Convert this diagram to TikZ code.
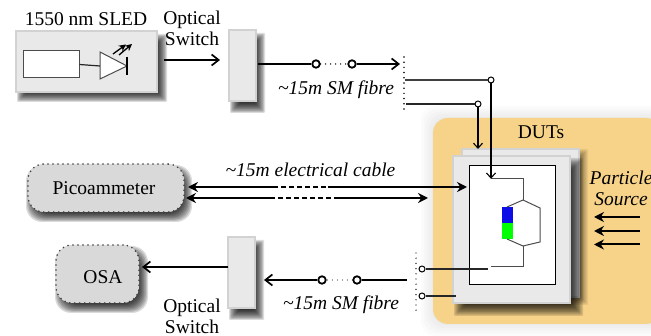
\documentclass[tikz,border=0pt]{standalone}
\usepackage{fontspec}
\setmainfont{Liberation Serif}
\usetikzlibrary{arrows.meta,calc}
\definecolor{cardfill}{HTML}{E9E9E9}
\definecolor{cardedge}{HTML}{D2D2D2}
\definecolor{orangebg}{HTML}{F6D389}
\definecolor{instfill}{HTML}{D9D9D9}
\newcommand{\softdrop}[7]{% x1 y1 x2 y2 blur radius opacity
  \foreach \ii in {0,...,9}{
    \pgfmathsetmacro{\dd}{#5*(1-\ii/4.5)}
    \fill[black,fill opacity=#7,rounded corners=#6pt]
      ({#1-\dd},{#2-\dd}) rectangle ({#3+\dd},{#4+\dd});
  }}
\tikzset{
  lbl/.style={font=\fontsize{19.5}{21}\selectfont,inner sep=0pt,align=center},
  ilbl/.style={font=\fontsize{19.5}{21}\selectfont\itshape,inner sep=0pt,align=center},
  card/.style={draw=cardedge,fill=cardfill,line width=1.6pt,inner sep=0pt},
  inst/.style={draw=black!75,line width=1.8pt,fill=instfill,inner sep=0pt,rounded corners=16pt,line cap=round,dash pattern=on 0pt off 5pt},
  wire/.style={line width=1.2pt,black!85},
  gwire/.style={line width=1pt,black!70},
  barbthick/.style={line width=1.7pt,-{Straight Barb[length=7pt,width=11pt,line width=1.7pt]}},
  barbthin/.style={line width=1.1pt,-{Straight Barb[length=5pt,width=9pt,line width=1.1pt]}},
  fat/.style={line width=2pt},
  port/.style={circle,draw=black,fill=white,line width=1.8pt,minimum size=7.5pt,inner sep=0pt},
  sport/.style={circle,draw=black,fill=white,line width=1pt,minimum size=6pt,inner sep=0pt},
  pin/.style={inner sep=0pt,minimum size=0pt},
  vdots/.style={line width=1.7pt,line cap=round,dash pattern=on 0pt off 5.2pt},
  hdots/.style={line width=1.5pt,line cap=round,dash pattern=on 0pt off 5pt},
  solidtip/.style={-{Stealth[length=10pt,width=10pt]}},
}
\begin{document}
\begin{tikzpicture}[x=1pt,y=-1pt]
\useasboundingbox (0,0) rectangle (651,336);
\fill[white] (0,0) rectangle (651,336);

% DUT background
\softdrop{433}{118}{665}{324}{12}{15}{0.016}
\node[fill=orangebg,rounded corners=15pt,minimum width=228pt,minimum height=206pt,inner sep=0pt] (dutbg) at (547,221) {};
\node[lbl] (dutlbl) at (541,132) {DUTs};

% SLED
\softdrop{22}{39}{162}{97}{5}{1}{0.14}
\node[card,minimum width=141pt,minimum height=61pt] (sled) at (86.5,61.5) {};
\node[draw=black!70,fill=white,line width=1pt,minimum width=56pt,minimum height=27pt,inner sep=0pt] (src) at (51,64.5) {};
\node[lbl] (sledlbl) at (86,19) {1550 nm SLED};
\coordinate (da) at (100,66);
\coordinate (dk) at (127,66);
\draw[draw=black!70,fill=white,line width=1pt] (100,52) -- (100,79) -- (dk) -- cycle;
\draw[wire] (src.east) -- (da);
\draw[line width=1.2pt,black] (127,57) -- (127,75);
\draw[line width=1.3pt,-{Stealth[length=7pt,width=7pt]}] (113,54) -- (126,44.5);
\draw[line width=1.3pt,-{Stealth[length=7pt,width=7pt]}] (119,55) -- (132,44);

% Top switch
\softdrop{235}{38}{260}{108}{5}{1}{0.14}
\node[card,minimum width=27pt,minimum height=71pt] (swt) at (242.5,65.5) {};
\node[lbl] (swtlbl) at (192,28) {Optical\\[0pt]Switch};
\draw[barbthick,line width=1.4pt] (164,60) -- (220,60);

% top fibre
\node[port] (p1) at (316,64) {};
\node[port] (p2) at (352,64) {};
\coordinate (ta) at (400,64);
\draw[fat] (258,64) -- (p1);
\draw[hdots] (p1) -- (p2);
\draw[barbthick] (p2) -- (ta);
\coordinate (d1) at (404,57);
\coordinate (d2) at (404,113);
\draw[vdots] (d1) -- (d2);
\node[ilbl] (flt) at (336,90) {\textasciitilde15m SM fibre};

% Card stack
\softdrop{467}{153}{584}{301}{4}{1}{0.06}
\node[card,minimum width=117pt,minimum height=148pt] (cardb) at (520.5,223) {};
\softdrop{460}{164}{577}{310}{6}{1}{0.13}
\node[card,minimum width=117pt,minimum height=147pt] (cardf) at (511.5,229.5) {};
\node[draw=black,fill=white,line width=0.9pt,minimum width=86pt,minimum height=119pt,inner sep=0pt] (inner) at (512,224.5) {};

% device
\fill[blue!90!black!95!white] (502,207) rectangle (513,223);
\fill[green] (502,223) rectangle (513,239);
\coordinate (hb) at (523,246);
\coordinate (ht) at (523,200);
\draw[gwire] (507,207) -- (ht) -- (540,208) -- (540,242) -- (hb) -- (507,239);
\node[pin] (in1) at (491,179) {};
\node[pin] (out1) at (491,267) {};
\draw[gwire] (in1) -| (ht);
\draw[gwire] (hb) |- (out1);

% fibres into DUT
\node[sport] (c1) at (491,80) {};
\node[sport] (c2) at (478,104) {};
\coordinate (t1) at (405,80);
\coordinate (t2) at (406,104);
\coordinate (t3) at (478,149);
\draw[line width=1.4pt,black!75] (t1) -- (c1);
\draw[wire] (t2) -- (c2);
\draw[barbthin] (c2) -- (t3);
\draw[barbthin] (c1) -- (in1);

% Picoammeter
\softdrop{31}{170}{187}{217}{5}{16}{0.14}
\node[inst,minimum width=156pt,minimum height=48pt] (pico) at (106,188) {};
\node[lbl] (picolbl) at (104,188) {Picoammeter};

% cables
\coordinate (u1) at (273,187);
\coordinate (u2) at (328,187);
\coordinate (l1) at (270,198);
\coordinate (l2) at (334,198);
\coordinate (ur) at (467,187);
\coordinate (ul) at (188,187);
\coordinate (lr) at (428,198);
\coordinate (ll) at (186,198);
\draw[fat,{Stealth[length=10pt,width=10pt]}-] (ul) -- (u1);
\draw[fat,dash pattern=on 5pt off 3pt] (u1) -- (u2);
\draw[fat,solidtip] (u2) -- (ur);
\draw[fat,{Stealth[length=10pt,width=10pt]}-] (ll) -- (l1);
\draw[fat,dash pattern=on 5pt off 3pt] (l1) -- (l2);
\draw[fat,solidtip] (l2) -- (lr);
\node[ilbl] (cablbl) at (310.5,170) {\textasciitilde15m electrical cable};

% OSA
\softdrop{60}{251}{143}{308}{5}{16}{0.14}
\node[inst,minimum width=83pt,minimum height=58pt] (osa) at (97.5,274) {};
\node[lbl] (osalbl) at (103,277) {OSA};

% bottom switch
\softdrop{234}{245}{259}{315}{5}{1}{0.14}
\node[card,minimum width=27pt,minimum height=71pt] (swb) at (241.5,272.5) {};
\node[lbl] (swblbl) at (192,316) {Optical\\[0pt]Switch};
\coordinate (oin) at (142,267);
\coordinate (swo) at (228,267);
\draw[barbthick,line width=1.4pt] (swo) -- (oin);

% bottom fibre
\node[port] (p3) at (322,280) {};
\node[port] (p4) at (357,280) {};
\coordinate (be) at (407,280);
\coordinate (bt) at (264,280);
\draw[line width=1.5pt] (be) -- (p4);
\draw[hdots,line width=1.2pt] (p4) -- (p3);
\draw[barbthick,line width=1.5pt] (p3) -- (bt);
\coordinate (d3) at (416,253);
\coordinate (d4) at (416,311);
\draw[vdots,line width=1.4pt] (d3) -- (d4);
\node[ilbl] (flb) at (341,305) {\textasciitilde15m SM fibre};

% ports on DUT
\node[sport] (c3) at (422,269) {};
\node[sport] (c4) at (422,296) {};
\coordinate (e3) at (488,269);
\coordinate (e4) at (456,296);
\draw[wire] (c3) -- (e3);
\draw[wire] (c4) -- (e4);

% particle source
\node[ilbl] (partlbl) at (621,188) {Particle\\[0pt]Source};
\foreach \yy/\nm in {217/a,231/b,244.5/c}{
  \coordinate (ps\nm) at (640,\yy);
  \coordinate (pe\nm) at (594,\yy);
  \draw[line width=2pt,-{Stealth[length=10pt,width=10pt]}] (ps\nm) -- (pe\nm);
}
\end{tikzpicture}
\end{document}
